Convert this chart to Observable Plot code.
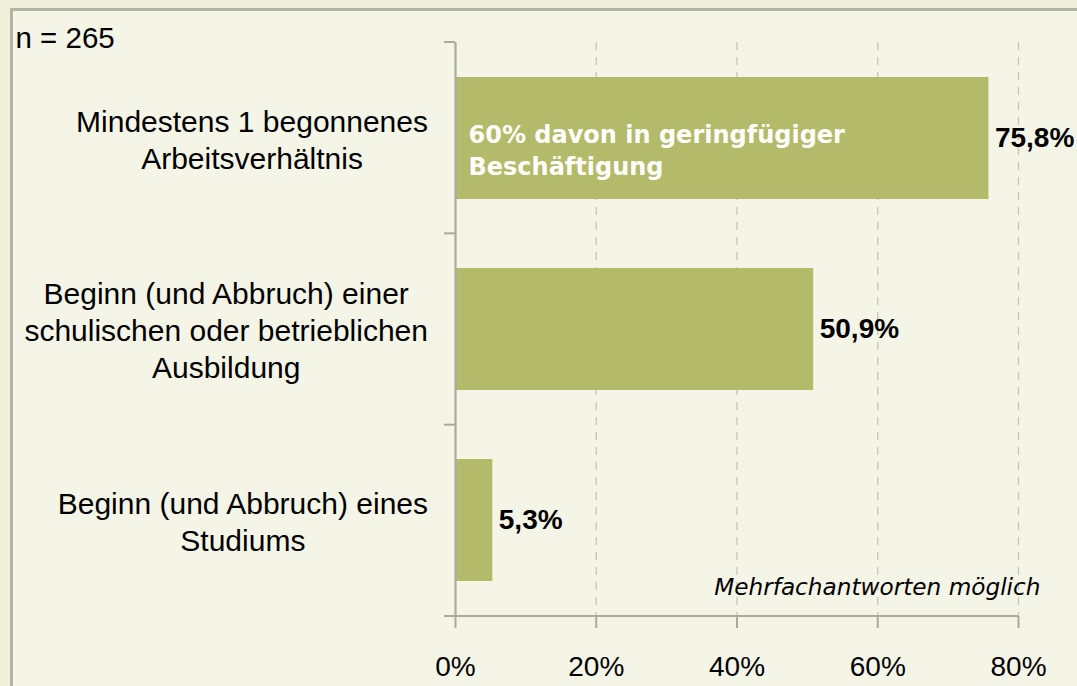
<!DOCTYPE html>
<html>
<head>
<meta charset="utf-8">
<script src="https://cdn.jsdelivr.net/npm/d3@7"></script>
<script src="https://cdn.jsdelivr.net/npm/@observablehq/plot@0.6"></script>
<style>
  html, body { margin: 0; padding: 0; }
  #wrap { position: relative; width: 1077px; height: 686px; overflow: hidden; background: #eef0dc; }
  #panel { position: absolute; left: 10px; top: 8px; width: 1200px; height: 800px; border: 3px solid #b2b5a2; background: #f4f5e7; }
  #chart { position: absolute; left: 0; top: 0; }
</style>
</head>
<body>
<div id="wrap"><div id="panel"></div><div id="chart"></div></div>
<script>
const categories = [
  "Mindestens 1 begonnenes\nArbeitsverhältnis",
  "Beginn (und Abbruch) einer\nschulischen oder betrieblichen\nAusbildung",
  "Beginn (und Abbruch) eines\nStudiums"
];
const values = [75.8, 50.9, 5.3];
const valueLabels = ["75,8%", "50,9%", "5,3%"];
const xTicks = [0, 20, 40, 60, 80];
const barNote = "60% davon in geringfügiger\nBeschäftigung";
const sampleNote = "n = 265";
const multiNote = "Mehrfachantworten möglich";

const data = categories.map((c, i) => ({cat: c, value: values[i], label: valueLabels[i]}));

const axisColor = "#a9ab9b";
const barColor = "#b3ba69";
const sans = "Arial, 'Liberation Sans', sans-serif";
const verdana = "Verdana, 'DejaVu Sans', sans-serif";

const plot = Plot.plot({
  width: 1077,
  height: 686,
  marginLeft: 455,
  marginRight: 59,
  marginTop: 42,
  marginBottom: 70,
  style: {background: "transparent", color: "black", fontFamily: sans, overflow: "visible"},
  x: {domain: [0, 80], ticks: xTicks, tickFormat: d => d + "%"},
  y: {domain: categories, paddingInner: 0.36, paddingOuter: 0.18, axis: null},
  marks: [
    Plot.gridX(xTicks.slice(1), {stroke: "#c4c5b8", strokeOpacity: 1, strokeWidth: 1.3, strokeDasharray: "8,7"}),
    Plot.barX(data, {x: "value", y: "cat", fill: barColor}),
    Plot.ruleX([0], {stroke: axisColor, strokeWidth: 2.2}),
    Plot.axisX({ticks: xTicks, tickFormat: d => d + "%", tickSize: 12, tickPadding: 28, stroke: axisColor, strokeWidth: 2, fontSize: 28, fill: "black", label: null}),
    Plot.text(data, {x: "value", y: "cat", text: "label", textAnchor: "start", dx: 6, fontSize: 28, fontWeight: "bold", fill: "black"}),
    Plot.text(data, {y: "cat", text: "cat", frameAnchor: "left", textAnchor: "middle", lineHeight: 1.23, fontSize: 30, fill: "black"}),
    Plot.text([barNote], {y: [categories[0]], x: [0], text: d => d, textAnchor: "start", dx: 13, dy: 10, lineHeight: 1.35, fontSize: 24, fontWeight: "bold", fill: "white", fontFamily: verdana}),
    Plot.text([multiNote], {text: d => d, frameAnchor: "bottom-right", textAnchor: "end", lineAnchor: "bottom", dx: 22, dy: -22, fontSize: 23.2, fontStyle: "italic", fill: "black", fontFamily: verdana}),
    Plot.text([sampleNote], {text: d => d, frameAnchor: "top-left", textAnchor: "start", lineAnchor: "top", dx: -440, dy: -15, fontSize: 29.5, fill: "black"})
  ]
});

document.getElementById("chart").appendChild(plot);

// Band boundary ticks and bottom axis line
const ys = plot.scale("y");
const xs = plot.scale("x");
const [y0, y1] = ys.range;
const n = ys.domain.length;
const step = (y1 - y0) / n;
const xStart = xs.apply(0);
const xEnd = xs.apply(80);
const svg = d3.select(plot);
const g = svg.append("g").attr("stroke", axisColor).attr("stroke-width", 2);
for (let i = 0; i < n; i++) {
  const yy = y0 + i * step;
  g.append("line").attr("x1", xStart - 11).attr("x2", xStart).attr("y1", yy).attr("y2", yy);
}
g.append("line").attr("x1", xStart - 11).attr("x2", xEnd).attr("y1", y1).attr("y2", y1);

// Right-align category label blocks (lines centred within block) to x = 428
const flatCats = categories.map(c => c.replace(/\n/g, ""));
const svgLeft = plot.getBoundingClientRect().left;
svg.selectAll("text").each(function () {
  if (!flatCats.includes(this.textContent)) return;
  const r = this.getBoundingClientRect();
  const shift = 428 - (r.right - svgLeft);
  const cur = this.getAttribute("transform") || "";
  this.setAttribute("transform", (cur + ` translate(${shift},0)`).trim());
});
</script>
</body>
</html>
